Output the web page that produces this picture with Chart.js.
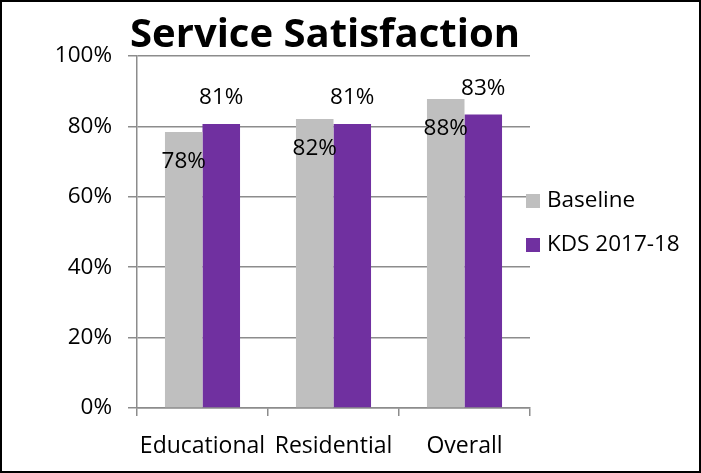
<!DOCTYPE html>
<html>
<head>
<meta charset="utf-8">
<script src="https://cdn.jsdelivr.net/npm/chart.js@4"></script>
<style>
  html, body { margin: 0; padding: 0; background: #fff; }
  #wrap {
    width: 701px; height: 473px; box-sizing: border-box;
    border: 2px solid #000; position: relative;
  }
</style>
</head>
<body>
<div id="wrap"><canvas id="chart"></canvas></div>
<script>
const categories = ["Educational", "Residential", "Overall"];
const seriesNames = ["Baseline", "KDS 2017-18"];
const baseline = [78.4, 82.1, 87.8];
const kds = [80.7, 80.7, 83.4];
const yTicks = [0, 20, 40, 60, 80, 100];
const chartTitle = "Service Satisfaction";

const FONT = "'Open Sans', sans-serif";
const GRID = "#8c8c8c";

// value labels: Baseline sits inside below the bar top, KDS above
const valueLabels = {
  id: "valueLabels",
  afterDatasetsDraw(chart) {
    const ctx = chart.ctx;
    ctx.save();
    ctx.font = `22.5px ${FONT}`;
    ctx.fillStyle = "#000";
    ctx.textAlign = "center";
    ctx.textBaseline = "middle";
    chart.data.datasets.forEach((ds, i) => {
      const off = i === 0 ? 30 : -26;
      chart.getDatasetMeta(i).data.forEach((bar, j) => {
        ctx.fillText(Math.round(ds.data[j]) + "%", bar.x, bar.y + off);
      });
    });
    ctx.restore();
  }
};

// legend to the right of the plot + title that overhangs the plot's left edge
const extras = {
  id: "extras",
  afterDraw(chart) {
    const { ctx, chartArea } = chart;
    ctx.save();
    ctx.font = `22.5px ${FONT}`;
    ctx.textBaseline = "middle";
    chart.data.datasets.forEach((ds, i) => {
      const y = chartArea.top + 145 + i * 44;
      ctx.fillStyle = ds.backgroundColor;
      ctx.fillRect(chartArea.right - 4, y - 7, 14, 14);
      ctx.fillStyle = "#000";
      ctx.fillText(ds.label, chartArea.right + 17, y);
    });

    ctx.font = `bold 40px ${FONT}`;
    ctx.textAlign = "center";
    ctx.fillText(chartTitle, 323, 34);
    ctx.restore();
  }
};

new Chart(document.getElementById("chart"), {
  type: "bar",
  data: {
    labels: categories,
    datasets: [
      { label: seriesNames[0], data: baseline, backgroundColor: "#bfbfbf" },
      { label: seriesNames[1], data: kds, backgroundColor: "#7030a0" },
    ],
  },
  options: {
    responsive: true,
    maintainAspectRatio: false,
    animation: false,
    datasets: { bar: { barPercentage: 1, categoryPercentage: 0.573 } },
    layout: { padding: { left: 0, right: 169, top: 54, bottom: 0 } },
    plugins: {
      legend: { display: false },
      tooltip: { enabled: false },
      title: { display: false },
    },
    scales: {
      y: {
        min: 0,
        max: 100,
        afterBuildTicks: axis => { axis.ticks = yTicks.map(v => ({ value: v })); },
        afterFit: axis => { axis.width = 135; },
        ticks: {
          callback: v => v + "%",
          color: "#000",
          padding: 16,
          font: { family: FONT, size: 22.5 },
        },
        grid: { color: GRID, lineWidth: 1.5, tickLength: 9 },
        border: { color: GRID, width: 1.5 },
      },
      x: {
        afterFit: axis => { axis.height = 63; },
        ticks: {
          color: "#000", padding: 17, autoSkip: false, maxRotation: 0, minRotation: 0,
          font: { family: FONT, size: 23 },
        },
        grid: { drawOnChartArea: false, color: GRID, lineWidth: 1.5, tickLength: 8, offset: true },
        border: { color: GRID, width: 1.5 },
      },
    },
  },
  plugins: [valueLabels, extras],
});
</script>
</body>
</html>
